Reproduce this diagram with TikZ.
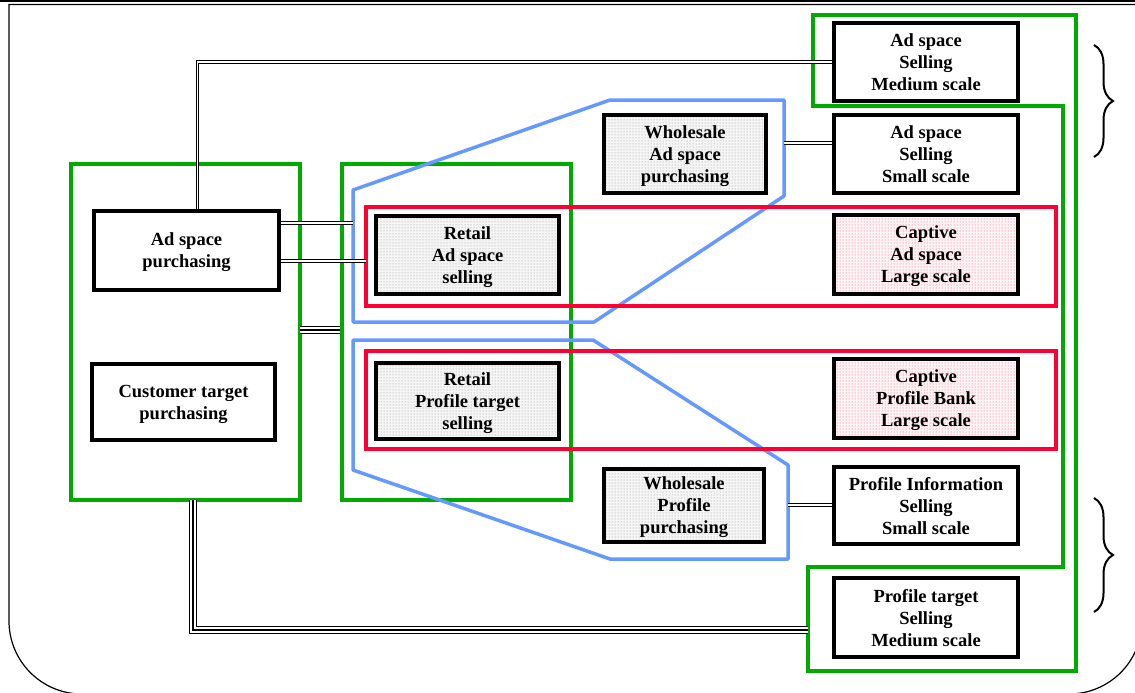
\documentclass[tikz,border=0pt]{standalone}
\usepackage{fontspec}
\setmainfont{Liberation Serif}
\usetikzlibrary{patterns,decorations.pathreplacing}
\definecolor{grn}{HTML}{00AA00}
\definecolor{rd}{HTML}{FF0033}
\definecolor{blu}{HTML}{6699FF}
\begin{document}
\begin{tikzpicture}[x=1pt,y=-1pt,
  box/.style={draw=black, line width=3.5pt, minimum width=184pt, minimum height=78pt,
    inner sep=0pt, text depth=-2pt, align=center, font=\fontsize{18.5}{22}\selectfont\bfseries},
  plain/.style={box, fill=white},
  grey/.style={box, preaction={fill=gray!8}, pattern=dots, pattern color=gray!80},
  pink/.style={box, preaction={fill=rd!4}, pattern=dots, pattern color=rd!75},
  grnframe/.style={draw=grn, line width=3.5pt, inner sep=0pt},
  redframe/.style={draw=rd, line width=3.5pt, inner sep=0pt},
  bluframe/.style={draw=blu, line width=3.5pt, line join=round},
  dbl/.style={draw=black, line width=0.8pt, double=white, double distance=1.8pt},
  trip/.style={draw=black, line width=2.4pt,
    preaction={draw=black, line width=0.8pt, double=white, double distance=5.5pt}},
  curly/.style={draw=black, line width=2pt, decorate, decoration={brace, amplitude=19pt}}
]
\useasboundingbox (0,0) rectangle (1135,693);

% outer frame
\draw[line width=1.2pt] (0,1) -- (1135,1);
\draw[line width=1.2pt] (1142,4.5) -- (9,4.5) -- (9,621)
  arc[start angle=180, end angle=90, radius=73] -- (1069,694)
  arc[start angle=90, end angle=0, radius=73] -- (1142,4.5);

% green groupings
\node[grnframe, minimum width=229pt, minimum height=336pt] (g1) at (185.5,332) {};
\node[grnframe, minimum width=229pt, minimum height=336pt] (g2) at (456.5,332) {};
\draw[grn, line width=3.5pt, line join=miter]
  (813,15) -- (1076,15) -- (1076,671) -- (808,671) -- (808,567)
  -- (1063,567) -- (1063,106) -- (813,106) -- cycle;

% blue groupings
\draw[bluframe] (353,190) -- (610,100) -- (784,100) -- (784,196) -- (594,322) -- (353,322) -- cycle;
\draw[bluframe] (353,340) -- (593,340) -- (788,465) -- (788,559) -- (610,559) -- (353,470) -- cycle;

% red groupings
\node[redframe, minimum width=690pt, minimum height=99pt] (redA) at (711,256.5) {};
\node[redframe, minimum width=690pt, minimum height=98pt] (redB) at (711,400) {};

% boxes
\node[plain, minimum width=185pt, minimum height=79pt] (aspurch) at (186.5,250.5) {Ad space\\purchasing};
\node[plain, minimum width=183pt, minimum height=76pt] (custpurch) at (183.5,402) {Customer target\\purchasing};
\node[grey, minimum width=183pt] (retailad) at (467.5,255) {Retail\\Ad space\\selling};
\node[grey, minimum width=183pt, minimum height=76pt] (retailprof) at (467.5,401) {Retail\\Profile target\\selling};
\node[grey, minimum width=162pt] (wholead) at (685,154) {Wholesale\\Ad space\\purchasing};
\node[grey, minimum width=160pt, minimum height=73pt] (wholeprof) at (684,505.5) {Wholesale\\Profile\\purchasing};
\node[plain] (asmed) at (926,62) {Ad space\\Selling\\Medium scale};
\node[plain] (assmall) at (926,154) {Ad space\\Selling\\Small scale};
\node[pink, minimum height=79pt] (captad) at (926,254.5) {Captive\\Ad space\\Large scale};
\node[pink, minimum height=79pt] (captprof) at (926,398.5) {Captive\\Profile Bank\\Large scale};
\node[plain, minimum height=77pt] (profinfo) at (926,505.5) {Profile Information\\Selling\\Small scale};
\node[plain, minimum height=79pt] (proftarget) at (926,617.5) {Profile target\\Selling\\Medium scale};

% connector end points on the group outlines
\coordinate (b1l) at (353,223);
\coordinate (r1l) at (366,261);
\coordinate (b1r) at (784,143);
\coordinate (b2r) at (788,505);
\coordinate (gmid) at (300,330);
\coordinate (g1b) at (193,500);
\coordinate (g3l) at (808,630);

% connectors
\draw[dbl] ([xshift=11pt]aspurch.north) |- (asmed.west);
\draw[dbl] (aspurch.east |- b1l) -- (b1l);
\draw[dbl] (aspurch.east |- r1l) -- (r1l);
\draw[dbl] (b1r) -- (assmall.west |- b1r);
\draw[dbl] (b2r) -- (profinfo.west |- b2r);
\draw[trip] (gmid) -- (g2.west |- gmid);
\draw[trip] (g1b) |- (g3l);

% braces
\draw[curly] (1094,45) -- (1094,157);
\draw[curly] (1094,498) -- (1094,612);
\end{tikzpicture}
\end{document}
